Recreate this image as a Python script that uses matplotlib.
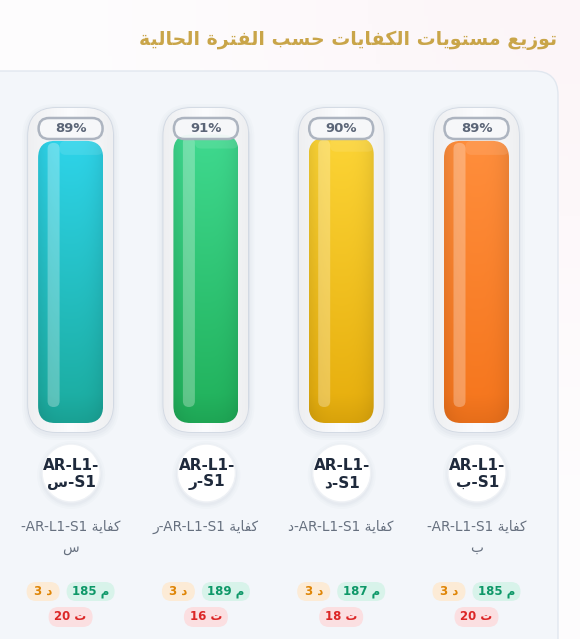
import numpy as np
import matplotlib.pyplot as plt
from matplotlib.patches import FancyBboxPatch, Circle
from matplotlib.colors import to_rgb

plt.rcParams['font.family'] = ['DejaVu Sans']

# data, listed right-to-left as on the page
title = "توزيع مستويات الكفايات حسب الفترة الحالية"
codes = ["ب", "د", "ر", "س"]
percents = [89, 90, 91, 89]
m_vals = [185, 187, 189, 185]
d_vals = [3, 3, 3, 3]
t_vals = [20, 18, 16, 20]
top_colors = ["#ff8e3c", "#fcd435", "#3fd98f", "#2ed4ea"]
bottom_colors = ["#f5751c", "#e6ad0c", "#20b05a", "#1bab9d"]

# arabic presentation forms: isolated, final, initial, medial
FORMS = {
    'ا': ('\uFE8D', '\uFE8E', None, None),
    'ب': ('\uFE8F', '\uFE90', '\uFE91', '\uFE92'),
    'ة': ('\uFE93', '\uFE94', None, None),
    'ت': ('\uFE95', '\uFE96', '\uFE97', '\uFE98'),
    'ح': ('\uFEA1', '\uFEA2', '\uFEA3', '\uFEA4'),
    'د': ('\uFEA9', '\uFEAA', None, None),
    'ر': ('\uFEAD', '\uFEAE', None, None),
    'ز': ('\uFEAF', '\uFEB0', None, None),
    'س': ('\uFEB1', '\uFEB2', '\uFEB3', '\uFEB4'),
    'ع': ('\uFEC9', '\uFECA', '\uFECB', '\uFECC'),
    'ف': ('\uFED1', '\uFED2', '\uFED3', '\uFED4'),
    'ك': ('\uFED9', '\uFEDA', '\uFEDB', '\uFEDC'),
    'ل': ('\uFEDD', '\uFEDE', '\uFEDF', '\uFEE0'),
    'م': ('\uFEE1', '\uFEE2', '\uFEE3', '\uFEE4'),
    'و': ('\uFEED', '\uFEEE', None, None),
    'ي': ('\uFEF1', '\uFEF2', '\uFEF3', '\uFEF4'),
}


def ar(s):
    """shape arabic letters and put them in visual (left to right) order"""
    out = []
    for i, ch in enumerate(s):
        if ch not in FORMS:
            out.append(ch)
            continue
        prev = s[i - 1] if i > 0 else None
        nxt = s[i + 1] if i + 1 < len(s) else None
        jp = prev in FORMS and FORMS[prev][2] is not None
        jn = nxt in FORMS and FORMS[ch][2] is not None
        iso, fin, ini, med = FORMS[ch]
        if jp and jn:
            out.append(med)
        elif jp:
            out.append(fin)
        elif jn:
            out.append(ini)
        else:
            out.append(iso)
    return ''.join(out)[::-1]


def rbox(ax, x0, y0, x1, y1, r, **kw):
    p = FancyBboxPatch((x0, y0), x1 - x0, y1 - y0,
                       boxstyle=f"round,pad=0,rounding_size={r}", **kw)
    ax.add_patch(p)
    return p


fig = plt.figure(figsize=(5.8, 6.39), dpi=100, facecolor="#fefdfe")
ax = fig.add_axes([0, 0, 1, 1])
ax.set_xlim(0, 580)
ax.set_ylim(639, 0)
ax.axis('off')

# faint pink tint at the top right
yy, xx = np.mgrid[0:639:4, 0:580:4]
tint = np.exp(-((xx - 580) ** 2 + yy ** 2) / (2 * 240 ** 2))
bg = np.ones((yy.shape[0], yy.shape[1], 4))
bg[..., :3] = to_rgb("#fbeef2")
bg[..., 3] = 0.5 * tint
ax.imshow(bg, extent=(0, 580, 639, 0), zorder=0, aspect='auto')

# card
rbox(ax, -40, 71, 558, 680, 24, fc="#f3f6fa", ec="#e1e7ef", lw=1, zorder=1)

ax.text(557, 40, ar(title), ha='right', va='center', fontsize=13.6,
        weight='bold', color="#c9a549", zorder=5)

col_gap = 135.3
for i, code in enumerate(codes):
    c = 476.5 - i * col_gap

    # glass tube + soft shadow
    for k, a in [(6, 0.03), (4, 0.04), (2, 0.05)]:
        rbox(ax, c - 42.5 - k, 108 - k + 2, c + 42.5 + k, 432 + k + 2, 28 + k,
             fc="#8a9ab0", ec="none", alpha=a, zorder=2)
    tube = rbox(ax, c - 42.5, 108, c + 42.5, 432, 28, fc="#f8fafc",
                ec="#d2d9e3", lw=1.3, zorder=3)
    g = np.linspace(0, 1, 64)[None, :]
    shade = 1 - 0.05 * np.abs(g - 0.5) * 2
    timg = np.ones((2, 64, 3)) * to_rgb("#fbfcfe")
    timg *= shade[..., None]
    im = ax.imshow(timg, extent=(c - 42.5, c + 42.5, 432, 108), zorder=3.1,
                   aspect='auto', interpolation='bilinear')
    im.set_clip_path(tube)

    # coloured bar, height from percent
    bot = 423
    top = bot - percents[i] / 100 * 317
    bar = rbox(ax, c - 32.5, top, c + 32.5, bot, 17, fc="none", ec="none",
               zorder=4)
    n = 200
    v = np.linspace(0, 1, n)[:, None, None]
    u = np.linspace(0, 1, 60)[None, :, None]
    tc = np.array(to_rgb(top_colors[i]))
    bc = np.array(to_rgb(bottom_colors[i]))
    img = tc * (1 - v) + bc * v
    img = img * (1 - 0.08 * (np.abs(u - 0.5) * 2) ** 3)
    img = img * (1 - 0.06 * np.clip((v - 0.9) / 0.1, 0, 1))
    img = np.clip(img, 0, 1)
    im = ax.imshow(img, extent=(c - 32.5, c + 32.5, bot, top), zorder=4,
                   aspect='auto', interpolation='bilinear')
    im.set_clip_path(bar)
    # gloss
    rbox(ax, c - 23, top + 2, c - 11, 407, 6, fc="white", ec="none",
         alpha=0.28, zorder=4.2)
    rbox(ax, c - 11, top, c + 32.5, top + 14, 6, fc="white", ec="none",
         alpha=0.10, zorder=4.2)

    # percent pill
    rbox(ax, c - 32, 118, c + 32, 139, 10.5, fc="#f7f8fa", ec="#a9b1bd",
         lw=1.8, alpha=0.95, zorder=5)
    ax.text(c, 129, f"{percents[i]}%", ha='center', va='center',
            fontsize=9.5, weight='bold', color="#5b6577", zorder=6)

    # code circle
    for k, a in [(5, 0.03), (3, 0.04), (1.5, 0.05)]:
        ax.add_patch(Circle((c + 0.5, 475), 29 + k, fc="#8a9ab0", ec="none",
                            alpha=a, zorder=4))
    ax.add_patch(Circle((c + 0.5, 473), 29, fc="white", ec="#eef1f5", lw=1,
                        zorder=5))
    ax.text(c + 1, 465, "AR-L1-", ha='center', va='center', fontsize=11,
            weight='bold', color="#1f2a3c", zorder=6)
    ax.text(c + 1, 482.5, ar(code) + "-S1", ha='center', va='center',
            fontsize=11, weight='bold', color="#1f2a3c", zorder=6)

    # competency name
    name = ar("كفاية")
    if code in ("س", "ب"):
        ax.text(c, 527, "-AR-L1-S1 " + name, ha='center', va='center',
                fontsize=9.8, color="#66707f", zorder=6)
        ax.text(c, 548, ar(code), ha='center', va='center', fontsize=9.8,
                color="#66707f", zorder=6)
    else:
        ax.text(c, 527, ar(code) + "-AR-L1-S1 " + name, ha='center',
                va='center', fontsize=9.8, color="#66707f", zorder=6)

    # badges
    rbox(ax, c + 20 - 24, 582, c + 20 + 24, 601, 9.5, fc="#d8f3ea",
         ec="none", zorder=5)
    ax.text(c + 20, 591.5, f"{m_vals[i]} " + ar("م"), ha='center',
            va='center', fontsize=8.5, weight='bold', color="#0e9868", zorder=6)
    rbox(ax, c - 27.5 - 16.5, 582, c - 27.5 + 16.5, 601, 9.5, fc="#fcebd6",
         ec="none", zorder=5)
    ax.text(c - 27.5, 591.5, f"{d_vals[i]} " + ar("د"), ha='center',
            va='center', fontsize=8.5, weight='bold', color="#df8506", zorder=6)
    rbox(ax, c - 22, 607, c + 22, 627, 10, fc="#fbdfe1", ec="none", zorder=5)
    ax.text(c, 617, f"{t_vals[i]} " + ar("ت"), ha='center', va='center',
            fontsize=8.5, weight='bold', color="#dc2626", zorder=6)

plt.savefig("out.png", dpi=100, facecolor=fig.get_facecolor())
